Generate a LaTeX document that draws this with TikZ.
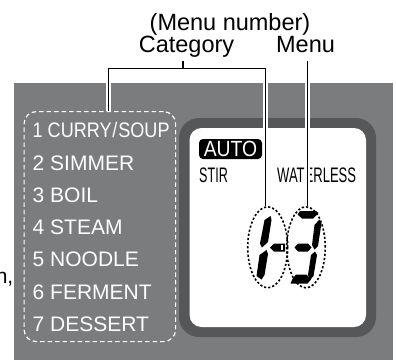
\documentclass[tikz,border=0pt]{standalone}
\usepackage{fontspec}
\setmainfont{Liberation Sans}
\usepackage{graphicx}
\usetikzlibrary{shapes.geometric}
\definecolor{panel}{RGB}{123,124,126}
\definecolor{lcdrim}{RGB}{86,87,89}
\begin{document}
\begin{tikzpicture}[x=1pt,y=-1pt,
  lbl/.style={inner sep=0pt, anchor=base, font=\fontsize{23.5}{26}\selectfont},
  item/.style={anchor=base west, inner sep=0pt, text=white, font=\fontsize{21}{22}\selectfont},
  lcdtxt/.style={anchor=base west, inner sep=0pt, font=\fontsize{21}{22}\selectfont},
  halo/.style={white, line width=5pt},
  leader/.style={black, line width=1.4pt},
  seg/.style={fill=black},
  digitring/.style={ellipse, draw=black, line width=1.6pt, dash pattern=on 2.2pt off 2pt, inner sep=0pt},
]
\useasboundingbox (0,0) rectangle (396,360);
\fill[white] (0,0) rectangle (396,360);
\fill[panel] (14,83) rectangle (393,360);
\node[anchor=base east, inner sep=0pt, font=\fontsize{21}{22}\selectfont] (cut) at (13.5,283) {n,};

% LCD window
\fill[lcdrim, rounded corners=20pt] (179,118) rectangle (376,337);
\fill[white, rounded corners=12pt] (189.5,128) rectangle (366,327);

% category list
\node[draw=white, line width=1.2pt, dash pattern=on 4.5pt off 3pt, rounded corners=12pt,
      minimum width=151.5pt, minimum height=230pt, inner sep=0pt, anchor=north west] (catbox) at (23.5,111) {};
\node[item] (c1) at (32.5,137.7) {\scalebox{0.86}[1]{1 CURRY\kern1pt/\kern1ptSOUP}};
\node[item] (c2) at (32.5,170.0) {2 SIMMER};
\node[item] (c3) at (32.5,202.2) {3 BOIL};
\node[item] (c4) at (32.5,234.5) {4 STEAM};
\node[item] (c5) at (32.5,266.7) {5 NOODLE};
\node[item] (c6) at (32.5,299.0) {6 FERMENT};
\node[item] (c7) at (32.5,331.2) {7 DESSERT};

% LCD texts
\node[fill=black, text=white, rounded corners=4pt, minimum width=63pt, minimum height=20pt,
      inner sep=0pt, font=\fontsize{22}{22}\selectfont] (auto) at (230.5,149) {\scalebox{0.88}[1]{AUTO}};
\node[lcdtxt] (stir) at (199,182.7) {\scalebox{0.6}[1]{STIR}};
\node[lcdtxt] (wl) at (277,182.7) {\scalebox{0.62}[1]{WATERLESS}};

% digit segments: left digit
\fill[seg] (270.5,216) -- (271.5,220) -- (268,242) -- (262,247.5) -- (260,243.5) -- (264.5,220) -- cycle;
\fill[seg] (266.5,250) -- (268,254) -- (264.5,275) -- (261.5,279.5) -- (256.5,276) -- (259.5,255) -- cycle;
\fill[seg] (270,247.5) -- (274,243.5) -- (285,243.5) -- (285,251.5) -- (274,251.5) -- cycle;
\fill[white] (280.8,245.2) rectangle (282.6,249.8);
% right digit "3"
\fill[seg] (300,211) -- (316,211) -- (318.5,213) -- (313,218.5) -- (302,218.5) -- (297.5,214.5) -- cycle;
\fill[seg] (319.5,219.5) -- (321.5,223) -- (318,246) -- (314.5,249.5) -- (312,245) -- (314.5,225) -- cycle;
\fill[seg] (294.5,247.5) -- (298,243.5) -- (308,243.5) -- (311.5,247.5) -- (308,251.5) -- (298,251.5) -- cycle;
\fill[seg] (315,251.5) -- (317,255) -- (313.5,276) -- (310,280) -- (308,275) -- (311,255) -- cycle;
\fill[seg] (296,274.5) -- (306.5,274.5) -- (311,279.5) -- (307.5,283.5) -- (290.5,283.5) -- (292.5,279) -- cycle;

\node[digitring, minimum width=40pt, minimum height=81pt] (catdig) at (267.7,247.3) {};
\node[digitring, minimum width=38.5pt, minimum height=81pt] (mdig) at (306,247.3) {};

% labels
\node[lbl] (mnum) at (230,30.5) {(Menu number)};
\node[lbl] (cat) at (186.5,52.5) {Category};
\node[lbl] (menu) at (305.5,52.5) {Menu};

% leaders
\coordinate (ctop) at (183,61);
\coordinate (brM) at (183,68.3);
\coordinate (brL) at (108.3,68.3);
\coordinate (brR) at (265.5,68.3);
\coordinate (mtop) at (307.3,61);
\foreach \st in {halo,leader}{
  \draw[\st] (ctop) -- (brM);
  \draw[\st] (catbox.north -| brL) -- (brL) -- (brR) -- (brR |- catdig.north);
  \draw[\st] (mtop) -- (mtop |- mdig.north);
}
\end{tikzpicture}
\end{document}
